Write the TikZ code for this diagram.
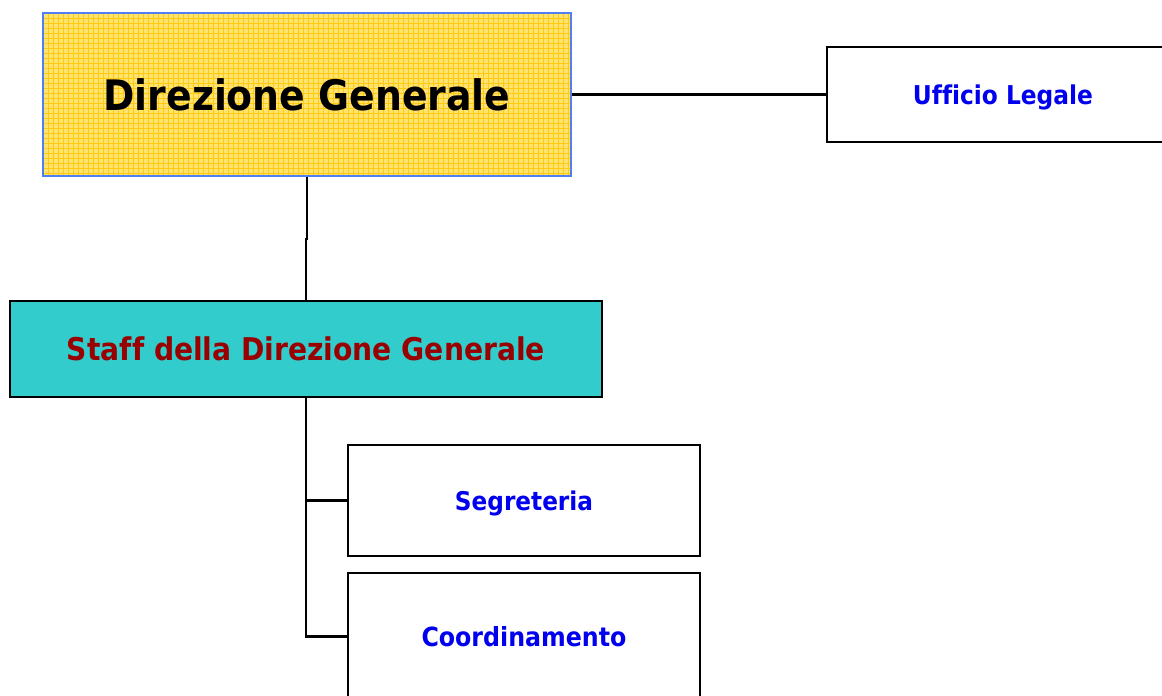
\documentclass[tikz,border=0pt]{standalone}
\usepackage{fontspec}
\usepackage{graphicx}
\newfontfamily\tah[Ligatures=NoCommon,RawFeature={-liga}]{DejaVu Sans Condensed}
\definecolor{dgfill}{HTML}{FFE370}
\definecolor{dggrid}{HTML}{FFCA10}
\definecolor{dgborder}{HTML}{4F7FF0}
\definecolor{stfill}{HTML}{33CCCC}
\definecolor{txtblue}{HTML}{0000EE}
\definecolor{txtred}{HTML}{990000}
\newcommand\fitw[2]{\raisebox{0pt}[\height][0pt]{\resizebox{#1}{!}{\tah\bfseries #2}}}
\tikzset{
  box/.style={rectangle, inner sep=0pt, line width=2.2pt, draw=black},
  whitebox/.style={box, fill=white, minimum width=352pt},
  conn/.style={line width=2.2pt, draw=black}
}
\begin{document}
\begin{tikzpicture}[x=1pt,y=-1pt]
\useasboundingbox (0,0) rectangle (1162,696);
% Direzione Generale with grid texture
\node[box, draw=none, fill=dgfill, minimum width=528pt, minimum height=163pt] (dg) at (307,94.5) {};
\begin{scope}
  \clip (dg.south west) rectangle (dg.north east);
  \foreach \i in {0,...,106} { \draw[dggrid, line width=0.8pt] (43+\i*5,13) -- (43+\i*5,176); }
  \foreach \j in {0,...,33} { \draw[dggrid, line width=0.8pt] (43,13+\j*5) -- (571,13+\j*5); }
\end{scope}
\node[box, draw=dgborder, minimum width=528pt, minimum height=163pt, text=black] (dgt) at (307,94.5) {\fitw{407pt}{Direzione Generale}};
\node[whitebox, minimum height=95pt, text=txtblue] (ul) at (1003,94.5) {\fitw{180pt}{Ufficio Legale}};
\node[box, fill=stfill, minimum width=592pt, minimum height=96pt, text=txtred] (st) at (306,349) {\fitw{478pt}{Staff della Direzione Generale}};
\node[whitebox, minimum height=111pt, text=txtblue] (sg) at (524,500.5) {\fitw{138pt}{Segreteria}};
\node[whitebox, minimum height=127pt, text=txtblue] (co) at (524,636.5) {\fitw{205pt}{Coordinamento}};
% connectors
\draw[conn] (dgt.east) -- (ul.west);
\draw[conn] (dgt.south) -- ++(0,62) -| (st.north);
\draw[conn] (st.south) |- (sg.west);
\draw[conn] (st.south) |- (co.west);
\end{tikzpicture}
\end{document}
